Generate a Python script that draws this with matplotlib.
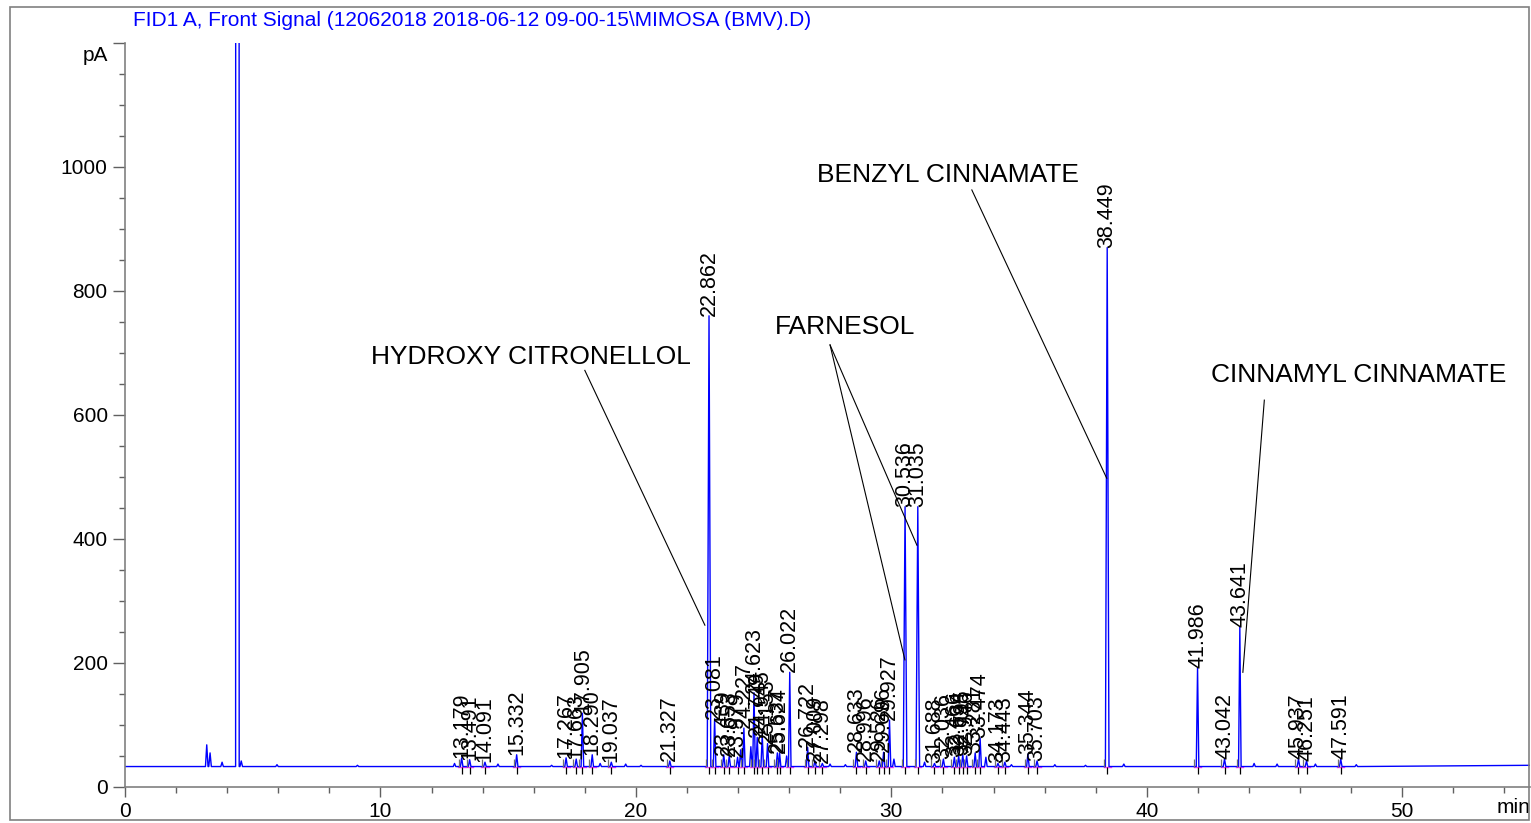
import numpy as np
import matplotlib
matplotlib.use("Agg")
import matplotlib.pyplot as plt
from matplotlib.patches import Rectangle

plt.rcParams['font.family'] = ['Liberation Sans', 'DejaVu Sans']

title = "FID1 A, Front Signal (12062018 2018-06-12 09-00-15\\MIMOSA (BMV).D)"

# baseline level of the trace (pA)
base = 33

# labelled peaks: retention time (min) and apex (pA)
peak_rt = [13.179, 13.491, 14.091, 15.332, 17.267, 17.663, 17.905, 18.290, 19.037,
           21.327, 22.862, 23.081, 23.439, 23.653, 23.979, 24.227, 24.623, 24.749,
           24.945, 25.153, 25.537, 25.624, 26.022, 26.722, 27.009, 27.298, 28.633,
           28.996, 29.526, 29.696, 29.927, 30.536, 31.035, 31.688, 32.036, 32.466,
           32.634, 32.795, 32.946, 33.281, 33.474, 34.173, 34.443, 35.344, 35.703,
           38.449, 41.986, 43.042, 43.641, 45.937, 46.251, 47.591]
peak_h = [47, 44, 40, 52, 47, 45, 119, 52, 40,
          42, 760, 110, 52, 50, 48, 95, 152, 80,
          84, 70, 55, 55, 185, 64, 42, 38, 56,
          42, 42, 56, 108, 452, 452, 38, 45, 48,
          50, 52, 50, 55, 79, 38, 40, 53, 42,
          870, 192, 45, 258, 45, 42, 45]

# unlabelled peaks (solvent and small bumps)
extra_rt = [3.20, 3.33, 3.80, 4.40, 4.55, 5.95, 9.10, 12.90, 14.60, 16.70,
            18.60, 19.60, 20.20, 24.10, 24.50, 25.90, 27.60, 28.20, 30.10, 31.30,
            33.70, 34.70, 36.40, 37.60, 39.10, 44.20, 45.10, 46.60, 48.20]
extra_h = [68, 55, 40, 30000, 42, 36, 35, 38, 37, 35,
           38, 37, 35, 60, 65, 50, 37, 36, 45, 40,
           48, 36, 36, 35, 37, 38, 37, 37, 36]

# compound names: text position and the peak points their leaders go to
cmp_names = ["HYDROXY CITRONELLOL", "FARNESOL", "BENZYL CINNAMATE", "CINNAMYL CINNAMATE"]
cmp_text = [(15.9, 694), (28.2, 742), (32.2, 987), (48.3, 665)]
cmp_from = [(18.0, 672), (27.6, 713), (33.15, 963), (44.6, 624)]
cmp_to = [[(22.70, 261)], [(30.53, 205), (31.0, 390)], [(38.43, 498)], [(43.76, 185)]]

# build trace from peak table (narrow spikes)
pts = []
for rt, h in zip(peak_rt + extra_rt, peak_h + extra_h):
    hw = 0.05 if h < 300 else 0.07
    pts += [(rt - hw, base), (rt, h), (rt + hw, base)]
pts.sort()
tx = [0] + [p[0] for p in pts] + [55]
ty = [base] + [p[1] for p in pts] + [base + 2]

fig = plt.figure(figsize=(15.31, 8.23), dpi=100)
W, H = 1531, 823
ax = fig.add_axes([125 / W, 1 - 787 / H, (1530 - 125) / W, (787 - 43) / H])

# outer frame
fig.patches.append(Rectangle((10 / W, 1 - 820 / H), 1519 / W, 813 / H, transform=fig.transFigure,
                             fill=False, edgecolor='#808080', lw=1.2))

# integration baseline pieces and markers
for rt in peak_rt:
    ax.plot([rt - 0.14, rt + 0.14], [base, base], color='#ff40ff', lw=1.0, zorder=1)
    ax.vlines(rt, base - 12, base, color='black', lw=0.9, zorder=3)
    ax.vlines(rt - 0.12, base, base + 12, color='#707070', lw=0.9, zorder=3)

ax.plot(tx, ty, color='#0000ff', lw=1.0, zorder=2)

for rt, h in zip(peak_rt, peak_h):
    ax.annotate(f"{rt:.3f}", (rt, h), xytext=(0, 0), textcoords='offset points',
                rotation=90, ha='center', va='bottom', fontsize=15.5, color='black', zorder=4)

for name, tpos, fpos, tos in zip(cmp_names, cmp_text, cmp_from, cmp_to):
    ax.text(tpos[0], tpos[1], name, ha='center', va='center', fontsize=19)
    for t in tos:
        ax.plot([fpos[0], t[0]], [fpos[1], t[1]], color='black', lw=0.8, zorder=5)

ax.set_xlim(0, 55)
ax.set_ylim(0, 1200)
for s in ['top', 'right']:
    ax.spines[s].set_visible(False)
for s in ['left', 'bottom']:
    ax.spines[s].set_color('#808080')
    ax.spines[s].set_linewidth(1.2)

ax.set_xticks(np.arange(0, 51, 10))
ax.set_xticks(np.arange(0, 55, 2), minor=True)
ax.set_yticks([0, 200, 400, 600, 800, 1000, 1200])
ax.set_yticklabels(['0', '200', '400', '600', '800', '1000', ''])
ax.set_yticks(np.arange(0, 1200, 50), minor=True)
ax.tick_params(axis='both', which='major', labelsize=15, color='#606060', width=1.0)
ax.tick_params(axis='y', which='major', length=9)
ax.tick_params(axis='x', which='major', length=7)
ax.tick_params(axis='both', which='minor', color='#606060', width=1.0, length=4.5)
ax.text(55, -18, "min", ha='right', va='top', fontsize=15, clip_on=False)
ax.annotate("pA", (0, 1200), xytext=(-12, -2), textcoords='offset points',
            ha='right', va='top', fontsize=15)

fig.text(133 / W, 1 - 20 / H, title, color='#0000ff', fontsize=15, ha='left', va='center')

fig.savefig("out.png", dpi=100)
